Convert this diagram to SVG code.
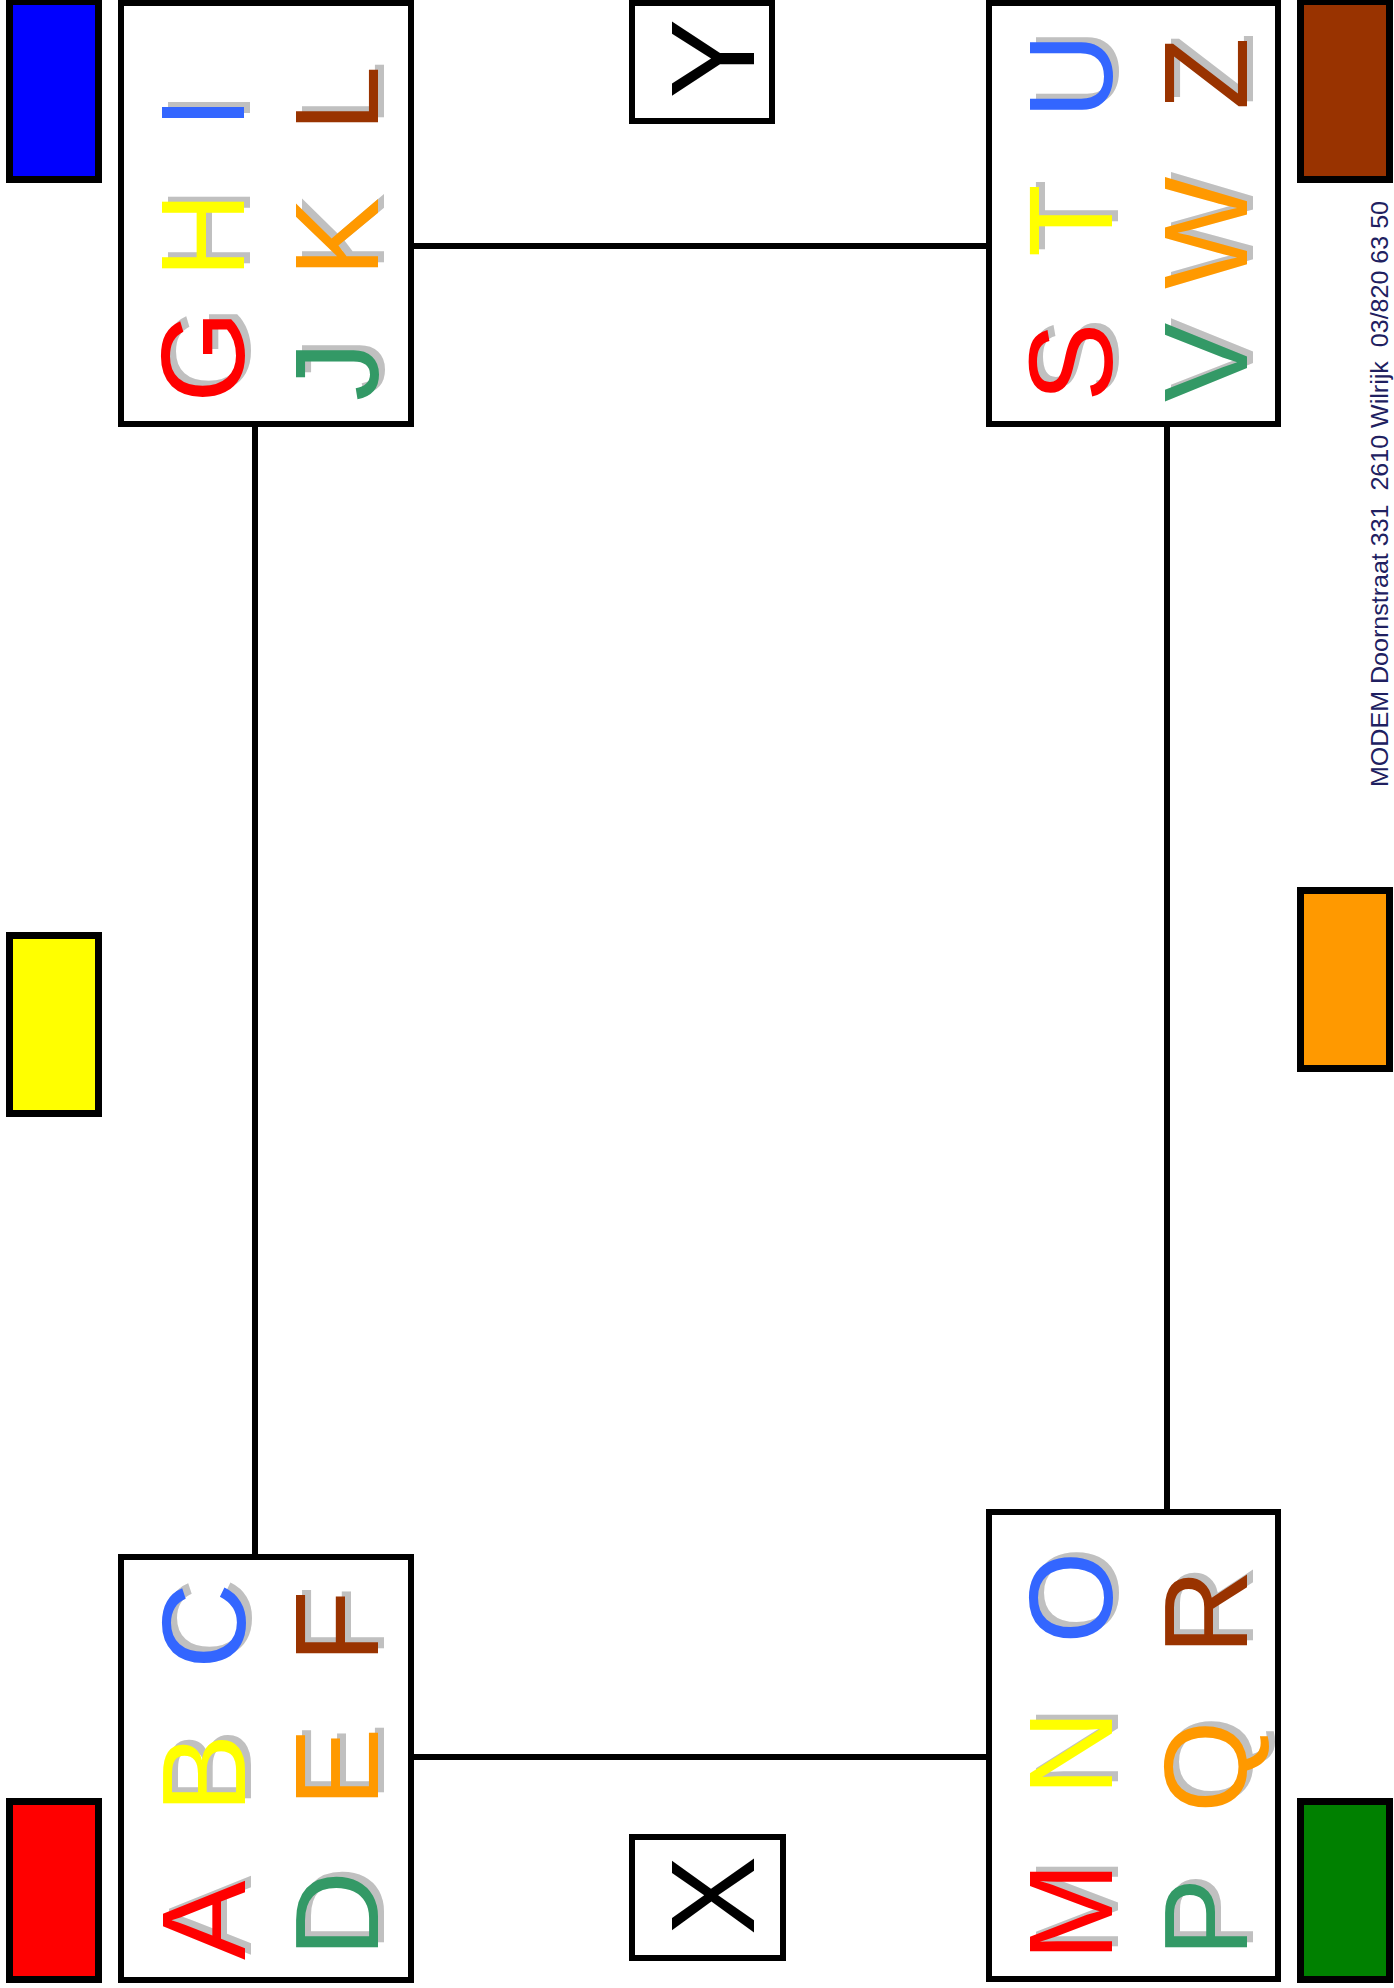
<svg xmlns="http://www.w3.org/2000/svg" width="1394" height="1988" viewBox="0 0 1394 1988">
<style>
.box{fill:#fff;stroke:#000;stroke-width:6}
.sw{stroke:#000;stroke-width:7}
.conn{stroke:#000;stroke-width:6;fill:none}
.big{font-family:"Liberation Sans",Arial,sans-serif;font-size:119px}
.sh{fill:#C0C0C0}
.r{fill:#FF0000}.y{fill:#FFFF00}.b{fill:#3366FF}.o{fill:#FF9900}.br{fill:#993300}.g{fill:#339966}.k{fill:#000}
.foot{font-family:"Liberation Sans",Arial,sans-serif;font-size:23px;fill:#202060}
</style>
<rect width="1394" height="1988" fill="#fff"/>
<g id="connectors">
<line class="conn" x1="255" y1="424" x2="255" y2="1557"/>
<line class="conn" x1="411" y1="246" x2="989" y2="246"/>
<line class="conn" x1="1167" y1="424" x2="1167" y2="1512"/>
<line class="conn" x1="411" y1="1757" x2="989" y2="1757"/>
</g>
<g id="swatch-blue"><rect class="sw" x="9.5" y="1.5" width="89" height="178" fill="#0000FF"/></g>
<g id="swatch-yellow"><rect class="sw" x="9.5" y="935.5" width="89" height="178" fill="#FFFF00"/></g>
<g id="swatch-red"><rect class="sw" x="9.5" y="1801.5" width="89" height="178" fill="#FF0000"/></g>
<g id="swatch-brown"><rect class="sw" x="1300.5" y="1.5" width="89" height="178" fill="#993300"/></g>
<g id="swatch-orange"><rect class="sw" x="1300.5" y="890.5" width="89" height="178" fill="#FF9900"/></g>
<g id="swatch-green"><rect class="sw" x="1300.5" y="1801.5" width="89" height="178" fill="#008000"/></g>

<g id="box-GHI">
<rect class="box" x="121" y="3" width="290" height="421"/>
<g class="big">
<g transform="translate(244,403) rotate(-90)"><text class="sh" x="5" y="6">G</text><text class="r">G</text></g>
<g transform="translate(244,278) rotate(-90)"><text class="sh" x="5" y="6">H</text><text class="y">H</text></g>
<g transform="translate(244,129) rotate(-90)"><text class="sh" x="5" y="6">I</text><text class="b">I</text></g>
<g transform="translate(378,401) rotate(-90)"><text class="sh" x="5" y="6">J</text><text class="g">J</text></g>
<g transform="translate(378,277) rotate(-90)"><text class="sh" x="5" y="6">K</text><text class="o">K</text></g>
<g transform="translate(378,132) rotate(-90)"><text class="sh" x="5" y="6">L</text><text class="br">L</text></g>
</g>
</g>

<g id="box-ABC">
<rect class="box" x="121" y="1557" width="290" height="423"/>
<g class="big">
<g transform="translate(245,1960) rotate(-90)"><text class="sh" x="5" y="6">A</text><text class="r">A</text></g>
<g transform="translate(245,1813) rotate(-90)"><text class="sh" x="5" y="6">B</text><text class="y">B</text></g>
<g transform="translate(245,1669) rotate(-90)"><text class="sh" x="5" y="6">C</text><text class="b">C</text></g>
<g transform="translate(378,1957) rotate(-90)"><text class="sh" x="5" y="6">D</text><text class="g">D</text></g>
<g transform="translate(378,1807) rotate(-90)"><text class="sh" x="5" y="6">E</text><text class="o">E</text></g>
<g transform="translate(378,1663) rotate(-90)"><text class="sh" x="5" y="6">F</text><text class="br">F</text></g>
</g>
</g>

<g id="box-STU">
<rect class="box" x="989" y="3" width="289" height="421"/>
<g class="big">
<g transform="translate(1112,402) rotate(-90)"><text class="sh" x="5" y="6">S</text><text class="r">S</text></g>
<g transform="translate(1112,257) rotate(-90)"><text class="sh" x="5" y="6">T</text><text class="y">T</text></g>
<g transform="translate(1112,119) rotate(-90)"><text class="sh" x="5" y="6">U</text><text class="b">U</text></g>
<g transform="translate(1247,402) rotate(-90)"><text class="sh" x="5" y="6">V</text><text class="g">V</text></g>
<g transform="translate(1247,289) rotate(-90)"><text class="sh" x="5" y="6">W</text><text class="o">W</text></g>
<g transform="translate(1247,110) rotate(-90)"><text class="sh" x="5" y="6">Z</text><text class="br">Z</text></g>
</g>
</g>

<g id="box-MNO">
<rect class="box" x="989" y="1512" width="289" height="467"/>
<g class="big">
<g transform="translate(1112,1961) rotate(-90)"><text class="sh" x="5" y="6">M</text><text class="r">M</text></g>
<g transform="translate(1112,1796) rotate(-90)"><text class="sh" x="5" y="6">N</text><text class="y">N</text></g>
<g transform="translate(1112,1644) rotate(-90)"><text class="sh" x="5" y="6">O</text><text class="b">O</text></g>
<g transform="translate(1247,1957) rotate(-90)"><text class="sh" x="5" y="6">P</text><text class="g">P</text></g>
<g transform="translate(1247,1813) rotate(-90)"><text class="sh" x="5" y="6">Q</text><text class="o">Q</text></g>
<g transform="translate(1247,1655) rotate(-90)"><text class="sh" x="5" y="6">R</text><text class="br">R</text></g>
</g>
</g>

<g id="box-Y">
<rect class="box" x="632" y="3" width="140" height="118"/>
<g transform="translate(754,58.5) rotate(-90)"><text class="big k" text-anchor="middle">Y</text></g>
</g>

<g id="box-X">
<rect class="box" x="632" y="1837" width="151" height="121"/>
<g transform="translate(754,1895.5) rotate(-90)"><text class="big k" text-anchor="middle">X</text></g>
</g>

<g id="footer">
<g transform="translate(1388,787) rotate(-90)"><text class="foot" xml:space="preserve" textLength="586" lengthAdjust="spacingAndGlyphs">MODEM Doornstraat 331  2610 Wilrijk  03/820 63 50</text></g>
</g>
</svg>
